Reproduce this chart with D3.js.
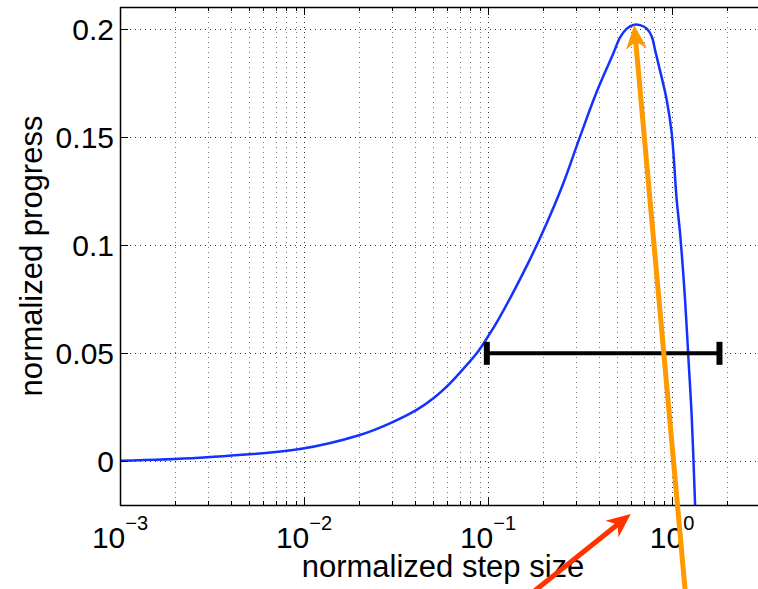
<!DOCTYPE html>
<html>
<head>
<meta charset="utf-8">
<style>
  body { margin: 0; background: #fff; }
  text { font-family: "Liberation Sans", Helvetica, Arial, sans-serif; fill: #000; }
  .grid-major { stroke: #333; stroke-width: 1; stroke-dasharray: 1,4; }
  .grid-minor { stroke: #777; stroke-width: 1; stroke-dasharray: 1,4; }
</style>
</head>
<body>
<div id="chart"></div>
<script src="https://d3js.org/d3.v7.min.js"></script>
<script>
// values
var stepSize = [0.001, 0.0027, 0.0095, 0.0201, 0.0293, 0.0409, 0.0505, 0.0621, 0.0766, 0.0868,
                0.0985, 0.1148, 0.169, 0.2084, 0.2566, 0.3162, 0.3897, 0.48, 0.5218, 0.5673,
                0.6163, 0.6699, 0.7288, 0.7757, 0.8085, 0.85, 0.9354, 0.9954, 1.06, 1.105,
                1.177, 1.226, 1.279, 1.334];
var progress = [0.0003, 0.0017, 0.0057, 0.0122, 0.0176, 0.0238, 0.0292, 0.0361, 0.0446, 0.05,
                0.0569, 0.0662, 0.0935, 0.1102, 0.1287, 0.1503, 0.1711, 0.1889, 0.1962, 0.2003,
                0.202, 0.2019, 0.2003, 0.1966, 0.1904, 0.1827, 0.1673, 0.152, 0.121, 0.1057,
                0.0747, 0.0484, 0.0207, -0.0202];

var xTicks = [0.001, 0.01, 0.1, 1];
var xTickExp = ["\u22123", "\u22122", "\u22121", "0"];
var yTicks = [0, 0.05, 0.1, 0.15, 0.2];
var yTickLabels = ["0", "0.05", "0.1", "0.15", "0.2"];

var errLo = 0.0985, errHi = 1.81, errY = 0.05;
var orangeArrow = [[1.191, -0.0642], [0.623, 0.202]];
var redArrow = [[0.155, -0.0642], [0.5963, -0.0244]];

var width = 758, height = 589;
var pLeft = 120, pRight = 766, pTop = 7, pBottom = 505;

var x = d3.scaleLog().domain([0.001, 3.24]).range([pLeft, pRight]);
var y = d3.scaleLinear().domain([-0.0202, 0.2103]).range([pBottom, pTop]);

var svg = d3.select("#chart").append("svg")
    .attr("width", width)
    .attr("height", height);

svg.append("clipPath").attr("id", "plot")
  .append("rect")
    .attr("x", pLeft).attr("y", pTop)
    .attr("width", pRight - pLeft).attr("height", pBottom - pTop);

// minor log positions
var minorX = [];
xTicks.forEach(function(d) {
    for (var k = 2; k <= 9; k++) minorX.push(d * k);
});

// grid
svg.append("g").selectAll("line")
    .data(minorX)
    .enter().append("line")
    .attr("class", "grid-minor")
    .attr("x1", function(d) { return Math.round(x(d)) + 0.5; })
    .attr("x2", function(d) { return Math.round(x(d)) + 0.5; })
    .attr("y1", pTop).attr("y2", pBottom);

svg.append("g").selectAll("line")
    .data(xTicks)
    .enter().append("line")
    .attr("class", "grid-major")
    .attr("x1", function(d) { return Math.round(x(d)) + 0.5; })
    .attr("x2", function(d) { return Math.round(x(d)) + 0.5; })
    .attr("y1", pTop).attr("y2", pBottom);

svg.append("g").selectAll("line")
    .data(yTicks)
    .enter().append("line")
    .attr("class", "grid-major")
    .attr("x1", pLeft).attr("x2", pRight)
    .attr("y1", function(d) { return Math.round(y(d)) + 0.5; })
    .attr("y2", function(d) { return Math.round(y(d)) + 0.5; });

// curve
var pts = stepSize.map(function(s, i) { return [s, progress[i]]; });
svg.append("path")
    .datum(pts)
    .attr("clip-path", "url(#plot)")
    .attr("fill", "none")
    .attr("stroke", "#1432ff")
    .attr("stroke-width", 2.5)
    .attr("d", d3.line()
        .x(function(d) { return x(d[0]); })
        .y(function(d) { return y(d[1]); })
        .curve(d3.curveCatmullRom.alpha(0.5)));

// error bar
var eb = svg.append("g").attr("stroke", "#000");
eb.append("line")
    .attr("x1", x(errLo)).attr("x2", x(errHi))
    .attr("y1", y(errY)).attr("y2", y(errY))
    .attr("stroke-width", 4);
[errLo, errHi].forEach(function(v) {
    eb.append("line")
        .attr("x1", x(v)).attr("x2", x(v))
        .attr("y1", y(errY) - 11.5).attr("y2", y(errY) + 11.5)
        .attr("stroke-width", 6);
});

// axes (box, inward ticks)
var ax = svg.append("g").attr("stroke", "#000").attr("fill", "none");
ax.append("line").attr("x1", pLeft).attr("x2", pRight).attr("y1", pBottom + 0.5).attr("y2", pBottom + 0.5).attr("stroke-width", 1.5);
ax.append("line").attr("x1", pLeft).attr("x2", pRight).attr("y1", pTop + 0.5).attr("y2", pTop + 0.5).attr("stroke-width", 1.5);
ax.append("line").attr("x1", pLeft + 0.5).attr("x2", pLeft + 0.5).attr("y1", pTop).attr("y2", pBottom + 1).attr("stroke-width", 1.5);

function xtick(list, len) {
    list.forEach(function(d) {
        var px = Math.round(x(d)) + 0.5;
        ax.append("line").attr("x1", px).attr("x2", px).attr("y1", pBottom).attr("y2", pBottom - len);
        ax.append("line").attr("x1", px).attr("x2", px).attr("y1", pTop).attr("y2", pTop + len);
    });
}
xtick(minorX, 4);
xtick(xTicks, 8);
yTicks.forEach(function(d) {
    var py = Math.round(y(d)) + 0.5;
    ax.append("line").attr("x1", pLeft).attr("x2", pLeft + 8).attr("y1", py).attr("y2", py);
});

// tick labels
var xl = svg.append("g").selectAll("text")
    .data(xTicks)
    .enter().append("text")
    .attr("x", function(d) { return x(d); })
    .attr("y", 548)
    .attr("text-anchor", "middle")
    .style("font-size", "30px");
xl.append("tspan").text("10");
xl.append("tspan")
    .attr("dy", -18)
    .style("font-size", "20px")
    .text(function(d, i) { return xTickExp[i]; });

svg.append("g").selectAll("text")
    .data(yTicks)
    .enter().append("text")
    .attr("x", 114)
    .attr("y", function(d) { return y(d) + 11; })
    .attr("text-anchor", "end")
    .style("font-size", "30px")
    .text(function(d, i) { return yTickLabels[i]; });

// axis labels
svg.append("text")
    .attr("x", (pLeft + pRight) / 2)
    .attr("y", 577)
    .attr("text-anchor", "middle")
    .style("font-size", "31px")
    .text("normalized step size");

svg.append("text")
    .attr("transform", "translate(42," + (pTop + pBottom) / 2 + ") rotate(-90)")
    .attr("text-anchor", "middle")
    .style("font-size", "31px")
    .text("normalized progress");

// arrows
function arrow(a, color, w, headLen, headW) {
    var x0 = x(a[0][0]), y0 = y(a[0][1]), x1 = x(a[1][0]), y1 = y(a[1][1]);
    var dx = x1 - x0, dy = y1 - y0, L = Math.sqrt(dx * dx + dy * dy);
    var ux = dx / L, uy = dy / L, nx = -uy, ny = ux;
    var bx = x1 - ux * headLen, by = y1 - uy * headLen;
    var nxp = x1 - ux * headLen * 0.7, nyp = y1 - uy * headLen * 0.7;
    svg.append("line")
        .attr("x1", x0).attr("y1", y0).attr("x2", nxp).attr("y2", nyp)
        .attr("stroke", color).attr("stroke-width", w);
    svg.append("path")
        .attr("fill", color)
        .attr("d", "M" + x1 + "," + y1 +
            "L" + (bx + nx * headW) + "," + (by + ny * headW) +
            "L" + nxp + "," + nyp +
            "L" + (bx - nx * headW) + "," + (by - ny * headW) + "Z");
}
arrow(orangeArrow, "#ff9900", 5, 24, 10.5);
arrow(redArrow, "#ff3300", 5, 24, 10.5);
</script>
</body>
</html>
